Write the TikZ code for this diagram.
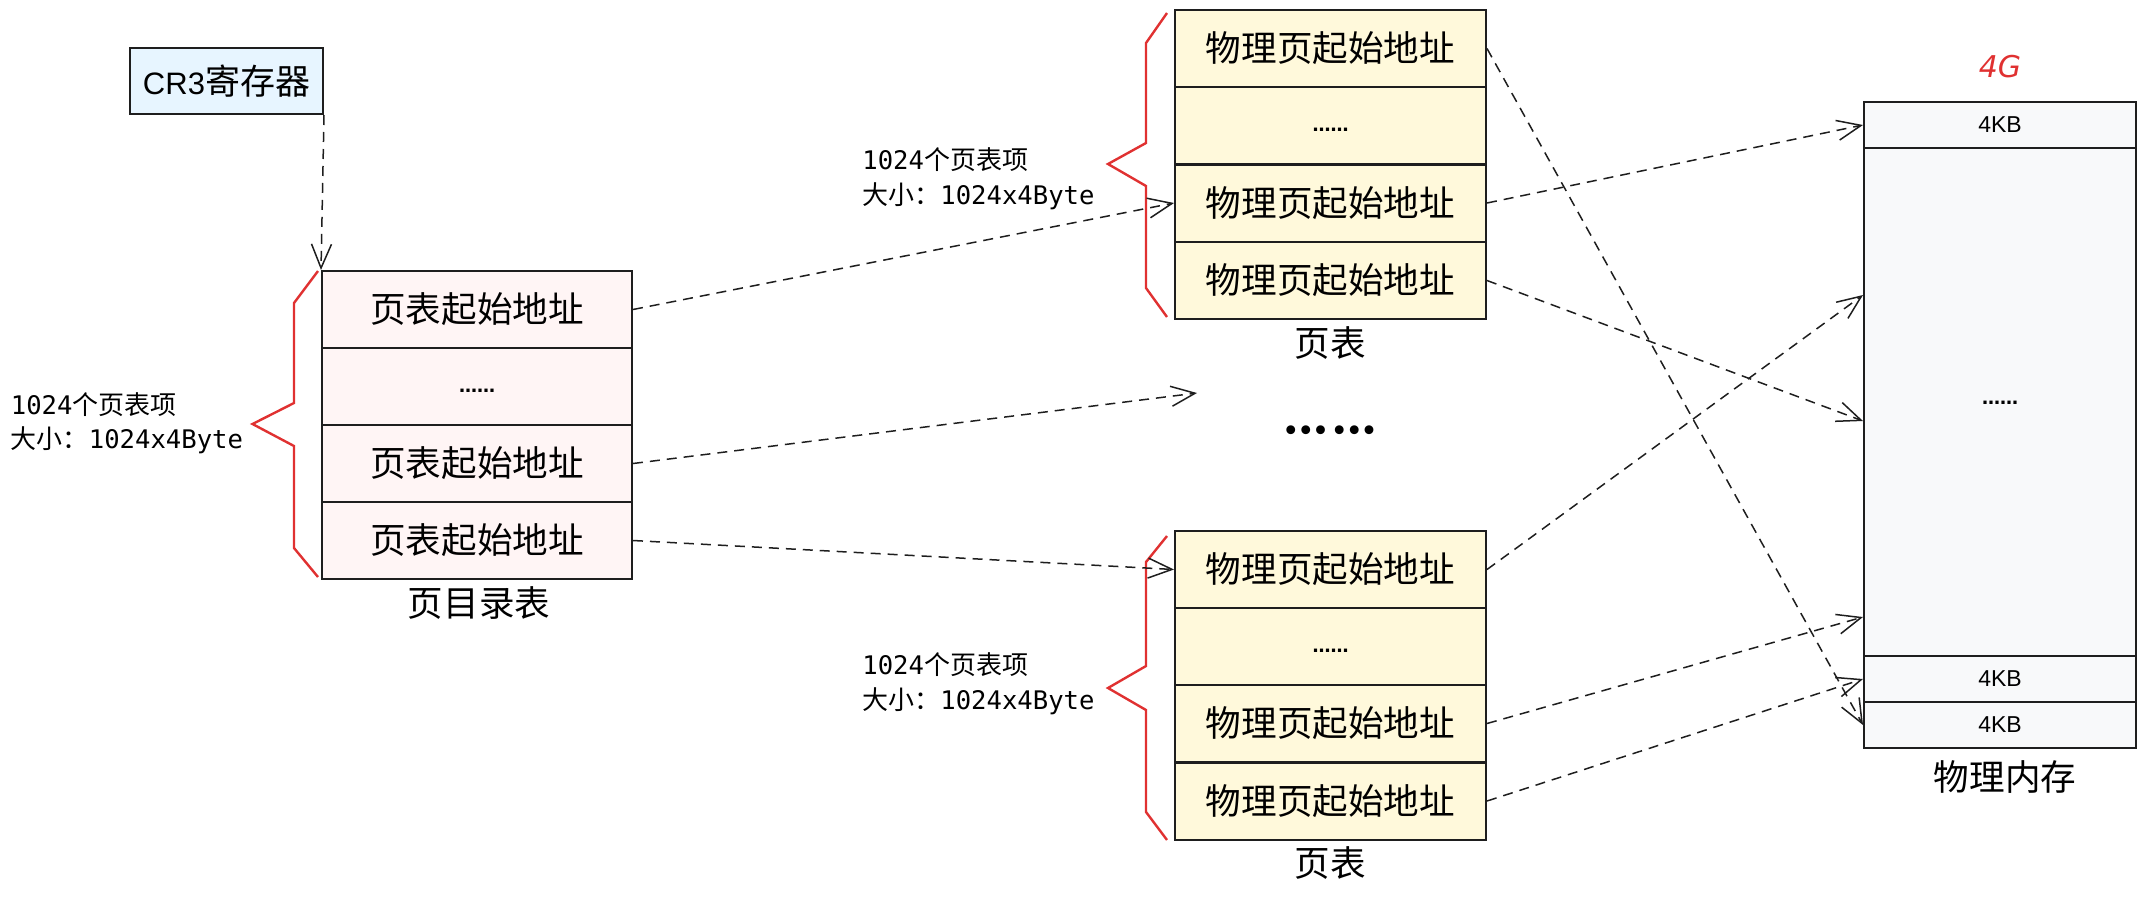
\documentclass[tikz,border=0pt]{standalone}
\usepackage{fontspec}
\usetikzlibrary{arrows.meta}
\newfontfamily\cjk{Noto Sans CJK SC}
\newfontfamily\mono{DejaVu Sans Mono}
\newfontfamily\lsans{Liberation Sans}
\newfontfamily\dvs{DejaVu Sans}
\definecolor{ink}{HTML}{1E1E1E}
\definecolor{pinkfill}{HTML}{FFF5F5}
\definecolor{yelfill}{HTML}{FFF9DB}
\definecolor{bluefill}{HTML}{E7F5FF}
\definecolor{grayfill}{HTML}{F8F9FA}
\definecolor{redline}{HTML}{E03131}
\newcommand{\cjkbig}{\cjk\fontsize{17.8pt}{21pt}\selectfont}
\newcommand{\smalldots}[1]{\raisebox{#1}[0pt][0pt]{\dvs\bfseries\fontsize{9pt}{10pt}\selectfont ……}}
\newcommand{\lbl}[2]{{\mono\fontsize{12.8pt}{15pt}\selectfont #1}{\cjk\fontsize{13pt}{15pt}\selectfont #2}}
\begin{document}
\begin{tikzpicture}[x=0.5pt,y=-0.5pt,
  cellbase/.style={draw=ink, line width=1pt, inner sep=0pt, font=\cjkbig},
  pdcell/.style={cellbase, fill=pinkfill, minimum width=155pt, minimum height=38.5pt},
  ptcell/.style={cellbase, fill=yelfill, minimum width=155.5pt, minimum height=38.5pt},
  memcell/.style={cellbase, fill=grayfill, minimum width=136pt, font=\lsans\fontsize{11.5pt}{14pt}\selectfont},
  caption/.style={inner sep=0pt, font=\cjkbig},
  sidelabel/.style={inner sep=0pt, anchor=west},
  dar/.style={draw=ink, line width=0.75pt, dash pattern=on 5pt off 3.5pt,
    -{Straight Barb[length=12pt,width=10pt,line width=0.75pt]}},
  brace/.style={draw=redline, line width=1.2pt, line join=miter}
]
\useasboundingbox (0,0) rectangle (2146,900);

% CR3 register
\node[draw=ink, line width=1pt, fill=bluefill, minimum width=96.5pt, minimum height=33pt, inner sep=0pt]
  (cr3) at (226.5,81) {{\lsans\fontsize{15.5pt}{18pt}\selectfont CR3}{\cjk\fontsize{17.5pt}{20pt}\selectfont 寄存器}};

% page directory
\node[pdcell] (pd1) at (477,309.5) {页表起始地址};
\node[pdcell] (pd2) at (477,386.5) {\smalldots{-3pt}};
\node[pdcell] (pd3) at (477,463.5) {页表起始地址};
\node[pdcell] (pd4) at (477,540.5) {页表起始地址};
\node[caption] (pdcap) at (479,603) {页目录表};

% top page table
\node[ptcell] (pta1) at (1330.5,48.5) {物理页起始地址};
\node[ptcell] (pta2) at (1330.5,125.5) {\smalldots{-3pt}};
\node[ptcell] (pta3) at (1330.5,203) {物理页起始地址};
\node[ptcell] (pta4) at (1330.5,280.5) {物理页起始地址};
\node[caption] (ptacap) at (1330,343) {页表};

% bottom page table
\node[ptcell] (ptb1) at (1330.5,569.5) {物理页起始地址};
\node[ptcell] (ptb2) at (1330.5,646.5) {\smalldots{-3pt}};
\node[ptcell] (ptb3) at (1330.5,723.5) {物理页起始地址};
\node[ptcell] (ptb4) at (1330.5,801) {物理页起始地址};
\node[caption] (ptbcap) at (1330,863) {页表};

% middle dots
\node[inner sep=0pt] (middots) at (1330,433) {\dvs\bfseries\fontsize{12.5pt}{14pt}\selectfont •\hspace{-0.6pt}•\hspace{-0.6pt}•\hspace{1.5pt}•\hspace{-0.6pt}•\hspace{-0.6pt}•};

% physical memory
\node[text=redline, inner sep=0pt] (fourg) at (2000,67) {\dvs\itshape\fontsize{15pt}{18pt}\selectfont 4G};
\node[memcell, minimum height=23pt] (mem1) at (2000,125) {4KB};
\node[memcell, minimum height=254pt] (mem2) at (2000,402) {\smalldots{-1pt}};
\node[memcell, minimum height=23pt] (mem3) at (2000,679) {4KB};
\node[memcell, minimum height=23pt] (mem4) at (2000,725) {4KB};
\node[caption] (memcap) at (2005,777) {物理内存};

% side labels
\node[sidelabel] (l1a) at (10.5,405) {\lbl{1024}{个页表项}};
\node[sidelabel] (l1b) at (10.5,440) {\lbl{}{大小：}\lbl{1024x4Byte}{}};
\node[sidelabel] (l2a) at (862,160) {\lbl{1024}{个页表项}};
\node[sidelabel] (l2b) at (862,196) {\lbl{}{大小：}\lbl{1024x4Byte}{}};
\node[sidelabel] (l3a) at (862,665) {\lbl{1024}{个页表项}};
\node[sidelabel] (l3b) at (862,701) {\lbl{}{大小：}\lbl{1024x4Byte}{}};

% red braces
\draw[brace] (318,271) -- (294,303) -- (294,403) -- (252.5,424) -- (294,446) -- (294,548) -- (318,577);
\draw[brace] (1167,13) -- (1146,43) -- (1146,143) -- (1108,164) -- (1146,186) -- (1146,288) -- (1167,317);
\draw[brace] (1167,536) -- (1146,562) -- (1146,666) -- (1108,688) -- (1146,710) -- (1146,812) -- (1167,840);

% connectors
\coordinate (midend) at (1197,393);
\draw[dar] (cr3.south east) -- (pd1.north west);
\draw[dar] (pd1.east) -- (pta3.west);
\draw[dar] (pd3.east) -- (midend);
\draw[dar] (pd4.east) -- (ptb1.west);
\draw[dar] (pta1.east) -- (mem4.west);
\draw[dar] (pta3.east) -- (mem1.west);
\draw[dar] (pta4.east) -- ([yshift=-9.5pt]mem2.west);
\draw[dar] (ptb1.east) -- ([yshift=53.5pt]mem2.west);
\draw[dar] (ptb3.east) -- ([yshift=-107.5pt]mem2.west);
\draw[dar] (ptb4.east) -- (mem3.west);
\end{tikzpicture}
\end{document}
